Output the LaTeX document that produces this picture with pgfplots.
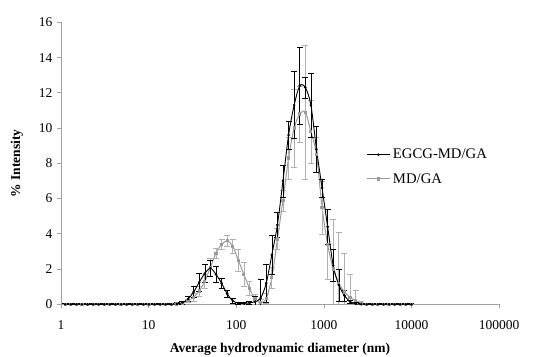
\documentclass[border=0pt]{standalone}
\usepackage{fontspec}
\setmainfont{Liberation Serif}
\usepackage{pgfplots}
\pgfplotsset{compat=1.18}
\usepackage{pgfplotstable}
\definecolor{axgray}{HTML}{A0A0A0}
\definecolor{ser2}{HTML}{9A9A9A}
\definecolor{err2}{HTML}{B0B0B0}

\pgfplotstableread{
x y e
1.117 0 0.08
1.294 0 0.08
1.499 0 0.08
1.736 0 0.08
2.010 0 0.08
2.328 0 0.08
2.696 0 0.08
3.122 0 0.08
3.615 0 0.08
4.187 0 0.08
4.849 0 0.08
5.615 0 0.08
6.503 0 0.08
7.531 0 0.08
8.721 0 0.08
10.10 0 0.08
11.70 0 0.08
13.54 0 0.08
15.69 0 0.08
18.17 0 0.08
21.04 0.02 0.08
24.36 0.1 0.1
28.21 0.3 0.15
32.67 0.7 0.3
37.84 1.25 0.5
43.82 1.75 0.5
50.75 2.05 0.45
58.77 1.7 0.45
68.06 1.2 0.3
78.82 0.6 0.2
91.28 0.2 0.15
105.7 0.06 0.08
122.4 0.05 0.08
141.8 0.08 0.1
164.2 0.15 0.3
190.1 0.35 1.05
220.2 1.2 1.1
255.0 2.8 1.1
295.3 4.5 0.7
342.0 7.0 0.9
396.1 9.6 0.8
458.7 11.3 1.9
531.2 12.4 2.2
615.1 12.3 0.6
712.4 11.3 1.8
825.0 8.8 1.3
955.4 6.6 0.5
1106 4.4 1.0
1281 2.2 0.9
1484 1.1 0.9
1718 0.5 0.3
1990 0.15 0.1
2305 0.03 0.08
2669 0 0.08
3091 0 0.08
3580 0 0.08
4145 0 0.08
4801 0 0.08
5560 0 0.08
6439 0 0.08
7456 0 0.08
8635 0 0.08
10000 0 0.08
}\egcgtab

\pgfplotstableread{
x y e
1.117 0 0.08
1.294 0 0.08
1.499 0 0.08
1.736 0 0.08
2.010 0 0.08
2.328 0 0.08
2.696 0 0.08
3.122 0 0.08
3.615 0 0.08
4.187 0 0.08
4.849 0 0.08
5.615 0 0.08
6.503 0 0.08
7.531 0 0.08
8.721 0 0.08
10.10 0 0.08
11.70 0 0.08
13.54 0 0.08
15.69 0 0.08
18.17 0 0.08
21.04 0.02 0.08
24.36 0.05 0.1
28.21 0.2 0.1
32.67 0.4 0.25
37.84 0.75 0.3
43.82 1.3 0.4
50.75 2.1 0.5
58.77 2.9 0.3
68.06 3.4 0.3
78.82 3.6 0.3
91.28 3.3 0.4
105.7 2.5 0.6
122.4 1.7 0.7
141.8 0.9 0.4
164.2 0.3 0.3
190.1 0.08 0.2
220.2 0.35 0.3
255.0 1.5 0.6
295.3 3.7 0.6
342.0 5.9 0.6
396.1 8.3 1.2
458.7 10.0 2.2
531.2 10.8 1.6
615.1 10.9 3.8
712.4 9.8 1.8
825.0 8.5 1.0
955.4 5.5 1.5
1106 3.4 2.0
1281 2.0 2.8
1484 1.2 2.9
1718 0.7 2.2
1990 0.4 1.3
2305 0.2 0.6
2669 0.05 0.1
3091 0 0.08
3580 0 0.08
4145 0 0.08
4801 0 0.08
5560 0 0.08
6439 0 0.08
7456 0 0.08
8635 0 0.08
10000 0 0.08
}\mdgatab

\begin{document}
\begin{tikzpicture}
\begin{axis}[
  scale only axis, width=438bp, height=282bp,
  xmode=log, xmin=1, xmax=100000, ymin=0, ymax=16,
  axis lines*=left,
  y axis line style={axgray, line width=0.8bp},
  x axis line style={axgray, line width=1.5bp},
  xtick={1,10,100,1000,10000,100000},
  xticklabels={1,10,100,1000,10000,100000},
  ytick={0,2,4,6,8,10,12,14,16},
  yticklabels={0,2,4,6,8,10,12,14,16},
  xminorticks=false,
  tick style={axgray, line width=0.6bp},
  major tick length=4bp, tick align=outside,
  ticklabel style={font=\fontsize{13.5bp}{15bp}\selectfont, text=black},
  xticklabel style={yshift=-9bp},
  yticklabel style={xshift=-1bp},
  xlabel={Average hydrodynamic diameter (nm)},
  ylabel={\% Intensity},
  label style={font=\fontsize{13.5bp}{15bp}\selectfont\bfseries},
  xlabel style={at={(axis description cs:0.5,0)}, anchor=center, yshift=-45.5bp},
  ylabel style={at={(axis description cs:0,0.5)}, anchor=center, yshift=44bp},
  legend style={draw=none, fill=none, at={(rel axis cs:0.697,0.56)}, anchor=north west,
    font=\fontsize{14.7bp}{16bp}\selectfont, row sep=8bp, inner sep=0pt,
    nodes={inner sep=2.5bp}},
  legend cell align=left,
  reverse legend,
  legend image code/.code={\draw[mark repeat=2, mark phase=2, #1] plot coordinates {(0bp,0bp) (11.5bp,0bp) (23bp,0bp)};},
]
\coordinate (ll) at (rel axis cs:0,0);
\coordinate (ur) at (rel axis cs:1,1);
\addplot[ser2, line width=1bp, smooth, mark=square*, mark size=1.1bp,
  mark options={ser2},
  error bars/.cd, y dir=both, y explicit,
  error bar style={err2, line width=0.7bp},
  error mark options={rotate=90, mark size=3bp, err2}]
  table[x=x, y=y, y error=e] {\mdgatab};
\addlegendentry{MD/GA}
\addplot[black, line width=0.9bp, smooth, mark=*, mark size=0.8bp,
  error bars/.cd, y dir=both, y explicit,
  error bar style={black, line width=0.6bp},
  error mark options={rotate=90, mark size=3bp, black}]
  table[x=x, y=y, y error=e] {\egcgtab};
\addlegendentry{EGCG-MD/GA}
\end{axis}
\pgfresetboundingbox
\path ([shift={(-61bp,-52.7bp)}]ll) rectangle ([shift={(53bp,22.3bp)}]ur);
\end{tikzpicture}
\end{document}
